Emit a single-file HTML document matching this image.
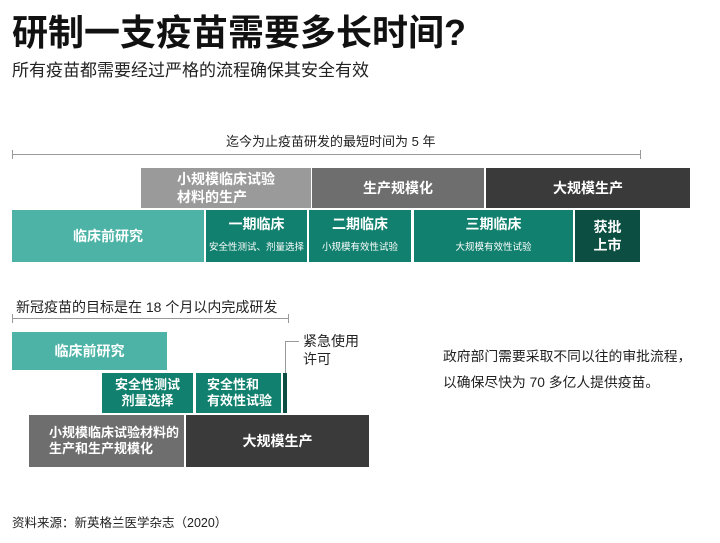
<!DOCTYPE html><html><head><meta charset="utf-8"><style>
body{margin:0;width:720px;height:543px;background:#fff;font-family:"Liberation Sans","Noto Sans CJK SC",sans-serif;position:relative;overflow:hidden;color:#222}
div{position:absolute;box-sizing:border-box}
.b{display:flex;flex-direction:column;align-items:center;justify-content:center;color:#fff;font-weight:bold;font-size:14px;line-height:18px;text-align:center}
.s{font-weight:normal;font-size:9.5px;margin-top:6px}
.t1{background:#4db3a6}.t2{background:#11806e}.t3{background:#0c4f42}
.g1{background:#9a9a9a}.g2{background:#6e6e6e}.g3{background:#3a3a3a}
</style></head><body>
<div style="left:12px;top:4px;font-size:36px;font-weight:bold;color:#111">研制一支疫苗需要多长时间?</div>
<div style="left:12px;top:56px;font-size:17px;color:#222">所有疫苗都需要经过严格的流程确保其安全有效</div>
<div style="left:226px;top:131px;font-size:13px">迄今为止疫苗研发的最短时间为 5 年</div>
<div style="left:12px;top:154px;width:629px;border-top:1px solid #999"></div>
<div style="left:12px;top:150px;height:9px;border-left:1px solid #999"></div>
<div style="left:640px;top:150px;height:9px;border-left:1px solid #999"></div>
<div class="b g1" style="left:141px;top:168px;width:170px;height:40px;align-items:flex-start;padding-left:36px;text-align:left">小规模临床试验<br>材料的生产</div>
<div class="b g2" style="left:312px;top:168px;width:172px;height:40px">生产规模化</div>
<div class="b g3" style="left:486px;top:168px;width:204px;height:40px">大规模生产</div>
<div class="b t1" style="left:12px;top:210px;width:192px;height:52px">临床前研究</div>
<div class="b t2" style="left:206px;top:210px;width:101px;height:52px">一期临床<span class="s">安全性测试、剂量选择</span></div>
<div class="b t2" style="left:309px;top:210px;width:102px;height:52px">二期临床<span class="s">小规模有效性试验</span></div>
<div class="b t2" style="left:414px;top:210px;width:159px;height:52px">三期临床<span class="s">大规模有效性试验</span></div>
<div class="b t3" style="left:575px;top:210px;width:65px;height:52px">获批<br>上市</div>
<div style="left:16px;top:297px;font-size:14px">新冠疫苗的目标是在 18 个月以内完成研发</div>
<div style="left:12px;top:318px;width:277px;border-top:1px solid #999"></div>
<div style="left:12px;top:314px;height:9px;border-left:1px solid #999"></div>
<div style="left:288px;top:314px;height:9px;border-left:1px solid #999"></div>
<div class="b t1" style="left:12px;top:332px;width:155px;height:38px">临床前研究</div>
<div class="b t2" style="left:102px;top:373px;width:91px;height:40px;font-size:13px;line-height:16px">安全性测试<br>剂量选择</div>
<div class="b t2" style="left:196px;top:373px;width:85px;height:40px;font-size:13px;line-height:16px;align-items:flex-start;padding-left:11px;text-align:left">安全性和<br>有效性试验</div>
<div class="t3" style="left:283px;top:373px;width:4px;height:40px"></div>
<div style="left:285px;top:341px;width:14px;height:32px;border-left:1px solid #999;border-top:1px solid #999"></div>
<div style="left:303px;top:332px;font-size:14px;line-height:18px">紧急使用<br>许可</div>
<div class="b g2" style="left:29px;top:415px;width:155px;height:52px;font-size:13px;line-height:16px;align-items:flex-start;padding-left:20px;text-align:left">小规模临床试验材料的<br>生产和生产规模化</div>
<div class="b g3" style="left:186px;top:415px;width:183px;height:52px">大规模生产</div>
<div style="left:443px;top:344px;font-size:13.8px;line-height:26px">政府部门需要采取不同以往的审批流程，<br>以确保尽快为 70 多亿人提供疫苗。</div>
<div style="left:12px;top:512px;font-size:12.5px">资料来源：新英格兰医学杂志（2020）</div>
</body></html>
